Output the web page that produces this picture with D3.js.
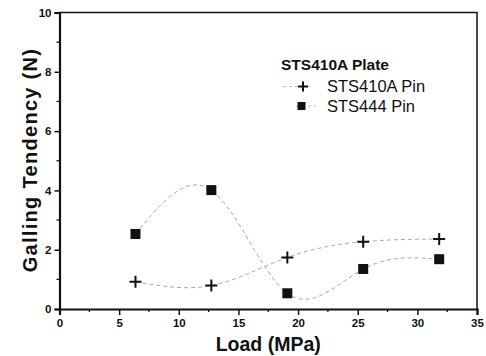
<!DOCTYPE html>
<html>
<head>
<meta charset="utf-8">
<script src="https://cdn.jsdelivr.net/npm/d3@7"></script>
<style>
  body { margin: 0; background: #fff; }
  text { font-family: "Liberation Sans", Arial, sans-serif; }
</style>
</head>
<body>
<div id="chart"></div>
<script>
const loads = [6.37, 12.73, 19.1, 25.46, 31.83];
const sts410aPin = [0.92, 0.79, 1.74, 2.27, 2.36];
const sts444Pin = [2.53, 4.01, 0.53, 1.35, 1.68];
const xTicks = [0, 5, 10, 15, 20, 25, 30, 35];
const yTicks = [0, 2, 4, 6, 8, 10];
const legendTitle = 'STS410A Plate';
const seriesNames = ['STS410A Pin', 'STS444 Pin'];

const W = 486, H = 356;
const Margin = { Top: 12.5, Bottom: 47, Left: 59.5, Right: 9 };

const svg = d3.select('#chart').append('svg')
  .attr('width', W).attr('height', H);

const x = d3.scaleLinear().domain([0, 35]).range([Margin.Left, W - Margin.Right]);
const y = d3.scaleLinear().domain([0, 10]).range([H - Margin.Bottom, Margin.Top]);

// frame top / right
svg.append('path')
  .attr('d', `M${x(0)},${y(10)}H${x(35)}V${y(0)}`)
  .attr('fill', 'none').attr('stroke', '#111').attr('stroke-width', 1.5);

// minor ticks
const xMinor = d3.range(2.5, 35, 5);
const yMinor = d3.range(1, 10, 2);
svg.append('g').selectAll('line').data(xMinor).join('line')
  .attr('x1', d => x(d)).attr('x2', d => x(d))
  .attr('y1', y(0)).attr('y2', y(0) + 3)
  .attr('stroke', '#111').attr('stroke-width', 1.3);
svg.append('g').selectAll('line').data(yMinor).join('line')
  .attr('y1', d => y(d)).attr('y2', d => y(d))
  .attr('x1', x(0)).attr('x2', x(0) - 3)
  .attr('stroke', '#111').attr('stroke-width', 1.3);

const xAxis = svg.append('g')
  .attr('transform', `translate(0,${y(0)})`)
  .call(d3.axisBottom(x).tickValues(xTicks).tickSize(6).tickPadding(4));
const yAxis = svg.append('g')
  .attr('transform', `translate(${x(0)},0)`)
  .call(d3.axisLeft(y).tickValues(yTicks).tickSize(5).tickPadding(3));

[xAxis, yAxis].forEach(g => {
  g.select('.domain').attr('stroke', '#111').attr('stroke-width', 2.2);
  g.selectAll('.tick line').attr('stroke', '#111').attr('stroke-width', 1.5);
  g.selectAll('.tick text')
    .attr('fill', '#111')
    .style('font-family', '"Liberation Sans", Arial, sans-serif')
    .style('font-size', '11.5px').style('font-weight', 'bold');
});

// axis titles
svg.append('text')
  .attr('x', (x(0) + x(35)) / 2).attr('y', 351)
  .attr('text-anchor', 'middle')
  .style('font-size', '19.5px').style('font-weight', 'bold').attr('fill', '#111')
  .text('Load (MPa)');
svg.append('text')
  .attr('transform', `translate(37,160) rotate(-90)`)
  .attr('text-anchor', 'middle')
  .style('font-size', '20px').style('font-weight', 'bold')
  .style('letter-spacing', '1.3px').attr('fill', '#111')
  .text('Galling Tendency (N)');

// smooth curves
const line = d3.line().curve(d3.curveNatural).x(d => x(d[0])).y(d => y(d[1]));
const s1 = loads.map((l, i) => [l, sts410aPin[i]]);
const s2 = loads.map((l, i) => [l, sts444Pin[i]]);
[s1, s2].forEach(s => {
  svg.append('path').datum(s)
    .attr('d', line)
    .attr('fill', 'none').attr('stroke', '#aaa')
    .attr('stroke-width', 1).attr('stroke-dasharray', '4,3');
});

// markers
svg.append('g').selectAll('path').data(s1).join('path')
  .attr('d', d => `M${x(d[0]) - 6},${y(d[1])}h12M${x(d[0])},${y(d[1]) - 6}v12`)
  .attr('stroke', '#111').attr('stroke-width', 2).attr('fill', 'none');
svg.append('g').selectAll('rect').data(s2).join('rect')
  .attr('x', d => x(d[0]) - 5).attr('y', d => y(d[1]) - 5)
  .attr('width', 10).attr('height', 10).attr('fill', '#111');

// legend
const lg = svg.append('g');
lg.append('text').attr('x', 281).attr('y', 70)
  .style('font-size', '15.5px').style('font-weight', 'bold').attr('fill', '#111')
  .text(legendTitle);
lg.append('line').attr('x1', 283).attr('x2', 312).attr('y1', 86.5).attr('y2', 86.5)
  .attr('stroke', '#bbb').attr('stroke-dasharray', '3,3');
lg.append('path').attr('d', 'M298,86.5h10M303,81.5v10')
  .attr('stroke', '#111').attr('stroke-width', 2);
lg.append('line').attr('x1', 296).attr('x2', 316).attr('y1', 106).attr('y2', 106)
  .attr('stroke', '#bbb').attr('stroke-dasharray', '3,3');
lg.append('rect').attr('x', 297.5).attr('y', 102).attr('width', 8).attr('height', 8).attr('fill', '#111');
lg.selectAll('text.s').data(seriesNames).join('text').attr('class', 's')
  .attr('x', 327).attr('y', (d, i) => 91.5 + i * 20)
  .style('font-size', '16.5px').attr('fill', '#111')
  .text(d => d);
</script>
</body>
</html>
